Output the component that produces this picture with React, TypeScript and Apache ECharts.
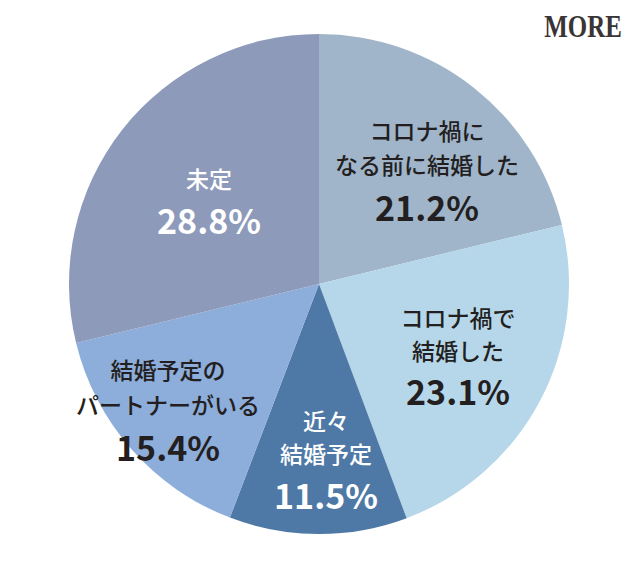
import React, { useEffect, useRef } from "react";
import * as echarts from "echarts";

const categories = [
  "コロナ禍になる前に結婚した",
  "コロナ禍で結婚した",
  "近々結婚予定",
  "結婚予定のパートナーがいる",
  "未定",
];
const values = [21.2, 23.1, 11.5, 15.4, 28.8];
const colors = ["#a0b5ca", "#b6d7ea", "#4e79a6", "#8daddb", "#8e9aba"];
const labelLines = [
  ["コロナ禍に", "なる前に結婚した"],
  ["コロナ禍で", "結婚した"],
  ["近々", "結婚予定"],
  ["結婚予定の", "パートナーがいる"],
  ["未定"],
];
const labelColors = ["#231f20", "#231f20", "#ffffff", "#231f20", "#ffffff"];
// label center x and vertical centers of text lines (last = percentage)
const labelX = [427, 458, 326, 168, 209];
const labelYs = [
  [130, 164, 206],
  [317, 350, 390],
  [420, 453, 494],
  [369, 404, 446],
  [178, 219],
];

export default function App() {
  const ref = useRef<HTMLDivElement>(null);
  useEffect(() => {
    if (!ref.current) return;
    const chart = echarts.init(ref.current, null, { renderer: "svg" });
    const font = "'Noto Sans CJK JP', 'Noto Sans', sans-serif";
    const graphics: any[] = [];
    categories.forEach((_, i) => {
      const lines = labelLines[i];
      const cx = labelX[i];
      const ys = labelYs[i];
      lines.forEach((ln, k) => {
        graphics.push({
          type: "text",
          x: cx,
          y: ys[k],
          z: 10,
          style: {
            text: ln,
            fill: labelColors[i],
            font: `500 23px ${font}`,
            textAlign: "center",
            textVerticalAlign: "middle",
          },
        });
      });
      graphics.push({
        type: "text",
        x: cx,
        y: ys[ys.length - 1],
        z: 10,
        style: {
          text: values[i].toFixed(1) + "%",
          fill: labelColors[i],
          font: `bold 34px ${font}`,
          textAlign: "center",
          textVerticalAlign: "middle",
        },
      });
    });
    graphics.push({
      type: "text",
      x: 583,
      y: 26,
      z: 10,
      scaleX: 0.78,
      style: {
        text: "MORE",
        fill: "#3a3435",
        font: "bold 32px 'Liberation Serif', 'DejaVu Serif', serif",
        textAlign: "center",
        textVerticalAlign: "middle",
      },
    });
    chart.setOption({
      animation: false,
      backgroundColor: "#ffffff",
      series: [
        {
          type: "pie",
          center: [319, 284],
          radius: [0, 250],
          startAngle: 90,
          clockwise: true,
          z: 1,
          label: { show: false },
          labelLine: { show: false },
          itemStyle: { borderWidth: 0 },
          emphasis: { disabled: true },
          data: categories.map((c, i) => ({
            name: c,
            value: values[i],
            itemStyle: { color: colors[i] },
          })),
        },
      ],
      graphic: graphics,
    });
    return () => chart.dispose();
  }, []);
  return (
    <div
      ref={ref}
      style={{ position: "fixed", left: 0, top: 0, width: 640, height: 568 }}
    />
  );
}
